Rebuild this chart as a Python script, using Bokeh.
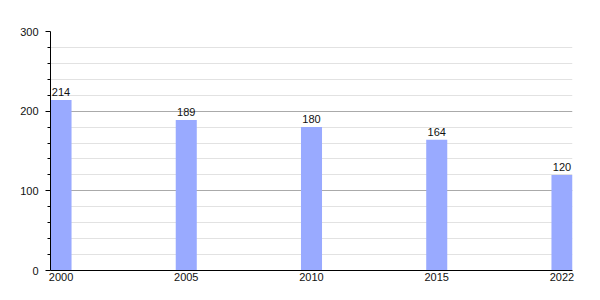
from bokeh.plotting import figure
from bokeh.models import FixedTicker, ColumnDataSource, Range1d
from bokeh.core.properties import value
from bokeh.embed import file_html
from bokeh.resources import INLINE

years = ["2000", "2005", "2010", "2015", "2022"]
counts = [214, 189, 180, 164, 120]
y_ticks = [0, 100, 200, 300]
y_minor = [20, 40, 60, 80, 120, 140, 160, 180, 220, 240, 260, 280]

bar_w = 0.168
pos = list(range(len(years)))
centers = [p + bar_w / 2 for p in pos]

src = ColumnDataSource(dict(x=centers, top=counts, lab=[str(c) for c in counts]))

p = figure(width=600, height=300, output_backend="svg", toolbar_location=None,
           x_range=Range1d(0, len(years) - 1 + bar_w), y_range=Range1d(0, 300),
           min_border_left=50, min_border_right=28, min_border_top=31, min_border_bottom=30)
p.outline_line_color = None
p.background_fill_color = "white"

p.vbar(x="x", top="top", width=bar_w, bottom=0, source=src,
       fill_color="#99aaff", line_color=None)
p.text(x="x", y="top", text="lab", source=src, text_align="center",
       text_baseline="bottom", y_offset=-4, text_font=value("Liberation Sans"),
       text_font_size="11px", text_color="#111111")

p.xaxis.ticker = FixedTicker(ticks=centers)
p.xaxis.major_label_overrides = {c: y for c, y in zip(centers, years)}
p.xaxis.major_tick_out = 0
p.xaxis.major_tick_in = 0
p.xaxis.minor_tick_out = 0
p.xaxis.minor_tick_in = 0
p.xaxis.major_label_standoff = 2
p.xaxis.axis_line_color = "black"

p.yaxis.ticker = FixedTicker(ticks=y_ticks, minor_ticks=y_minor)
p.yaxis.major_tick_out = 5
p.yaxis.major_tick_in = 0
p.yaxis.minor_tick_out = 3
p.yaxis.minor_tick_in = 0
p.yaxis.major_label_standoff = 7
p.yaxis.axis_line_color = "black"

for ax in (p.xaxis, p.yaxis):
    ax.major_label_text_font = "Liberation Sans"
    ax.major_label_text_font_size = "11px"
    ax.major_label_text_color = "#111111"

p.xgrid.grid_line_color = None
p.ygrid.grid_line_color = "#aaaaaa"
p.ygrid.minor_grid_line_color = "#e2e2e2"
p.ygrid.level = "underlay"

open("out.html", "w").write(file_html(p, INLINE))
